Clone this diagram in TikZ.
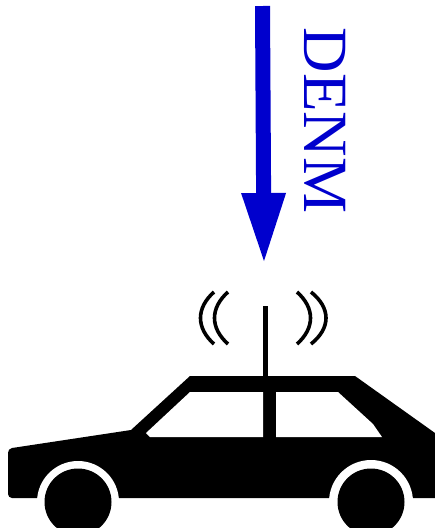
\documentclass[tikz,border=0pt]{standalone}
\usepackage{fontspec}
\setmainfont{Liberation Serif}
\usetikzlibrary{arrows.meta}
\definecolor{denmblue}{RGB}{0,0,205}
\tikzset{
    wave/.style={line width=3.6pt, black},
    denmarrow/.style={draw=denmblue, line width=15pt, -{Triangle[length=68pt, width=45pt, line width=0pt, fill=denmblue]}},
    window/.style={fill=white}
}
\begin{document}
\begin{tikzpicture}[x=1pt, y=-1pt]
    \useasboundingbox (0,0) rectangle (435,528);

    % Sygnal DENM
    \coordinate (start) at (262.5,6);
    \coordinate (tip) at (264,261);
    \draw[denmarrow] (start) -- (tip);
    \node (denm) at (325,120.5) [rotate=-90, text=denmblue, inner sep=0pt, font=\fontsize{63}{63}\selectfont] {DENM};

    % Antena
    \draw[line width=5pt] (265,306) -- (265,380);
    \draw[wave] (214,292) .. controls (196,308) and (196,328) .. (214,344);
    \draw[wave] (228,292) .. controls (210,308) and (210,328) .. (228,344);
    \draw[wave] (297,292) .. controls (315,308) and (315,328) .. (297,344);
    \draw[wave] (311,292) .. controls (331,308) and (331,328) .. (311,344);

    % Nadwozie
    \fill (12,498) to[out=180, in=-90] (8,494) -- (8,453) to[out=90, in=190] (12,448) -- (131,430) -- (190,376) -- (355,376) -- (435,433) -- (435,498) -- cycle;
    \fill[window] (190,392) -- (263,392) -- (263,437) -- (150,437) -- (146,433) -- cycle;
    \fill[window] (276,392) -- (338,392) -- (373,424) -- (382,437) -- (276,437) -- cycle;

    % Kola
    \fill[white] (78,502) circle (41pt);
    \fill[white] (371,502) circle (42pt);
    \fill (78,502) circle (33.5pt);
    \fill (371,502) circle (33.5pt);
\end{tikzpicture}
\end{document}
